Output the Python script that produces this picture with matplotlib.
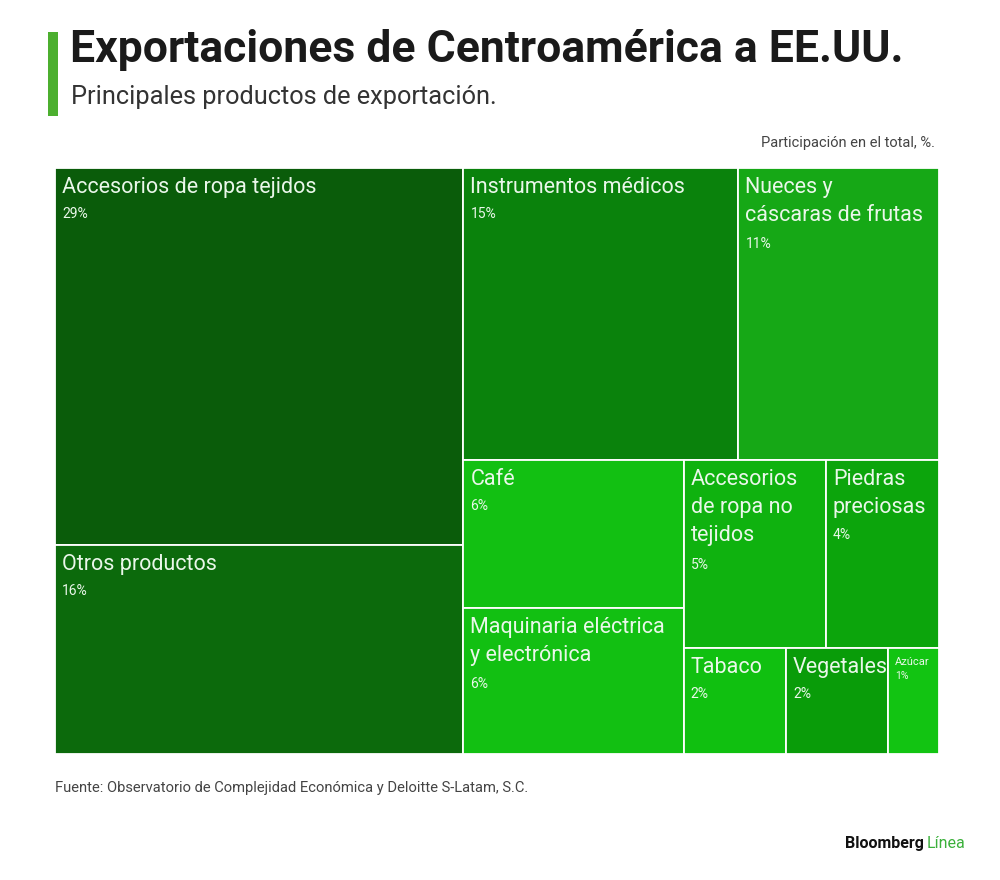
import matplotlib
matplotlib.use("Agg")
import matplotlib.pyplot as plt
from matplotlib.patches import Rectangle

# ---- data ----
categories = [
    "Accesorios de ropa tejidos",
    "Otros productos",
    "Instrumentos médicos",
    "Nueces y\ncáscaras de frutas",
    "Café",
    "Maquinaria eléctrica\ny electrónica",
    "Accesorios\nde ropa no\ntejidos",
    "Piedras\npreciosas",
    "Tabaco",
    "Vegetales",
    "Azúcar",
]
shares = [29.7, 16.5, 15.5, 11.3, 6.3, 6.2, 5.15, 4.1, 2.1, 2.1, 1.04]
pct_labels = ["29%", "16%", "15%", "11%", "6%", "6%", "5%", "4%", "2%", "2%", "1%"]
colors = ["#0a5c0a", "#0c6a0c", "#0a820c", "#16a816", "#12c012", "#12c012",
          "#0fb20f", "#0ca50c", "#10c010", "#099c09", "#12c412"]

title = "Exportaciones de Centroamérica a EE.UU."
subtitle = "Principales productos de exportación."
unit_note = "Participación en el total, %."
source = "Fuente: Observatorio de Complejidad Económica y Deloitte S-Latam, S.C."

FONT = "Roboto"


def worst(row, length):
    s = sum(row)
    return max(max(length ** 2 * r / s ** 2, s ** 2 / (length ** 2 * r)) for r in row)


def squarify(values, x, y, w, h):
    total = sum(values)
    sizes = [v * w * h / total for v in values]
    rects = []
    while sizes:
        length = min(w, h)
        row = [sizes[0]]
        i = 1
        while i < len(sizes) and worst(row + [sizes[i]], length) <= worst(row, length):
            row.append(sizes[i])
            i += 1
        s = sum(row)
        if w >= h:
            cw = s / h
            yy = y
            for r in row:
                rh = r / cw
                rects.append((x, yy, cw, rh))
                yy += rh
            x += cw
            w -= cw
        else:
            rh = s / w
            xx = x
            for r in row:
                rw = r / rh
                rects.append((xx, y, rw, rh))
                xx += rw
            y += rh
            h -= rh
        sizes = sizes[i:]
    return rects


W, H = 1000, 880
fig = plt.figure(figsize=(W / 100, H / 100), dpi=100)
fig.patch.set_facecolor("white")

# treemap axes in pixel-like units
L, T, R, B = 55, 168, 939, 754
ax = fig.add_axes([L / W, 1 - B / H, (R - L) / W, (B - T) / H])
aw, ah = R - L, B - T
ax.set_xlim(0, aw)
ax.set_ylim(ah, 0)
ax.axis("off")

rects = squarify(shares, 0, 0, aw, ah)
for (x, y, w, h), name, pct, col in zip(rects, categories, pct_labels, colors):
    ax.add_patch(Rectangle((x, y), w, h, facecolor=col, edgecolor="white", linewidth=1.3))
    small = w < 70
    nlines = name.count("\n") + 1
    if small:
        ax.text(x + 7, y + 9, name, color="#eaf7ea", fontsize=8, family=FONT,
                va="top", ha="left")
        ax.text(x + 7, y + 23, pct, color="#eaf7ea", fontsize=7.5, family=FONT,
                va="top", ha="left")
    else:
        ax.text(x + 7, y + 9, name, color="#eaf7ea", fontsize=15.5, family=FONT,
                va="top", ha="left", linespacing=1.45)
        ax.text(x + 7, y + 39 + (nlines - 1) * 29.5, pct, color="#eaf7ea",
                fontsize=10, family=FONT, va="top", ha="left")

# accent bar
fig.add_artist(Rectangle((48 / W, 1 - 116 / H), 10 / W, 84 / H, transform=fig.transFigure,
                         facecolor="#4caf2f", edgecolor="none"))

fig.text(70 / W, 1 - 50 / H, title, fontsize=32, fontweight="bold", family=FONT,
         color="#1a1a1a", va="center", ha="left")
fig.text(71 / W, 1 - 97 / H, subtitle, fontsize=18.3, family=FONT,
         color="#333333", va="center", ha="left")
fig.text(935 / W, 1 - 143 / H, unit_note, fontsize=10.5, family=FONT,
         color="#444444", va="center", ha="right")
fig.text(55 / W, 1 - 788 / H, source, fontsize=10.6, family=FONT,
         color="#444444", va="center", ha="left")

fig.text(924 / W, 1 - 843 / H, "Bloomberg", fontsize=11.5, fontweight="bold",
         family=FONT, color="#111111", va="center", ha="right")
fig.text(927 / W, 1 - 843 / H, "Línea", fontsize=11.5, family=FONT,
         color="#3bb03b", va="center", ha="left")

fig.savefig("out.png", dpi=100, facecolor="white")
